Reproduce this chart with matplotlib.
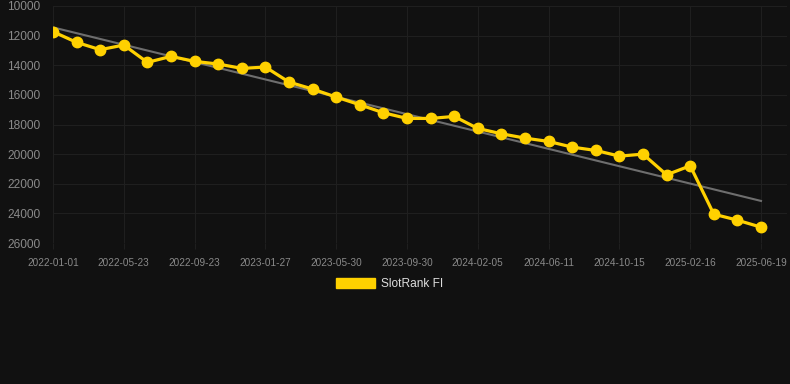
import matplotlib
matplotlib.use("Agg")
import matplotlib.pyplot as plt
from matplotlib.patches import Patch
import numpy as np

dates = ["2022-01-01", "2022-02-17", "2022-04-05", "2022-05-23", "2022-07-03", "2022-08-13",
         "2022-09-23", "2022-11-04", "2022-12-16", "2023-01-27", "2023-03-09", "2023-04-19",
         "2023-05-30", "2023-07-10", "2023-08-20", "2023-09-30", "2023-11-12", "2023-12-25",
         "2024-02-05", "2024-03-18", "2024-04-29", "2024-06-11", "2024-07-23", "2024-09-03",
         "2024-10-15", "2024-11-25", "2025-01-05", "2025-02-16", "2025-03-29", "2025-05-09",
         "2025-06-19"]
ranks = [11734, 12455, 12950, 12635, 13806, 13401, 13739, 13919, 14212, 14122,
         15135, 15608, 16149, 16667, 17207, 17590, 17590, 17455, 18266, 18626,
         18919, 19144, 19527, 19752, 20135, 20000, 21396, 20788, 24054, 24459, 24932]
series_name = "SlotRank FI"
y_ticks = [10000, 12000, 14000, 16000, 18000, 20000, 22000, 24000, 26000]

BG = "#111111"
GRID = "#1f1f1f"
TXT = "#8a8a8a"
YEL = "#FFD100"

plt.rcParams['font.family'] = ['Liberation Sans', 'DejaVu Sans']
fig = plt.figure(figsize=(7.9, 3.84), dpi=100, facecolor=BG)
ax = fig.add_axes([53/790, 1-243/384, (787-53)/790, (243-6)/384])
ax.set_facecolor(BG)

x = np.arange(len(ranks))
coef = np.polyfit(x, ranks, 1)
ax.plot([x[0], x[-1]], np.polyval(coef, [x[0], x[-1]]), color="#6e6e6e", lw=1.5, zorder=2)
ax.plot(x, ranks, color=YEL, lw=2.3, marker='o', markersize=7.5, zorder=3)

ax.set_xlim(0, (787-53)/23.6)
ax.set_ylim(26000, 10000)
ax.set_yticks(y_ticks)
ax.set_yticklabels([str(v) for v in y_ticks])
tick_idx = list(range(0, len(dates), 3))
ax.set_xticks(tick_idx)
ax.set_xticklabels([dates[i] for i in tick_idx])
ax.grid(True, color=GRID, lw=0.8)
ax.set_axisbelow(True)
for s in ax.spines.values():
    s.set_visible(False)
ax.tick_params(axis='y', length=0, pad=9, labelsize=8.6, colors=TXT)
ax.tick_params(axis='x', length=4, width=0.8, color=GRID, pad=7, labelsize=7.2, colors=TXT)

fig.legend(handles=[Patch(facecolor=YEL, edgecolor=YEL, label=series_name)],
           loc='center', bbox_to_anchor=(389.5/790, 1-284/384), frameon=False,
           fontsize=8.6, labelcolor="#dddddd", handlelength=3.3, handleheight=0.9,
           handletextpad=0.5)

fig.savefig("out.png", dpi=100, facecolor=BG)
